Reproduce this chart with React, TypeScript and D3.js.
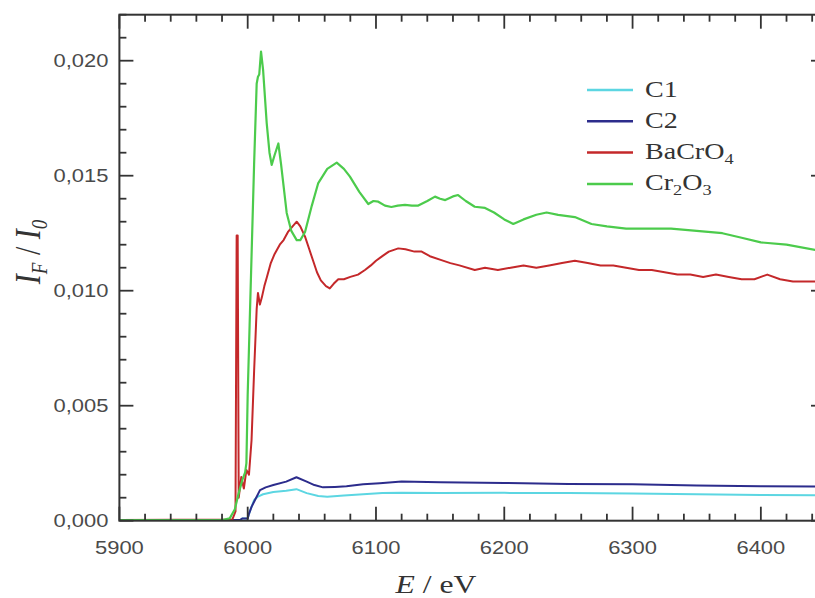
import React from 'react';
import * as d3 from 'd3';

// ---------- data ----------
const xTicksMajor = [5900, 6000, 6100, 6200, 6300, 6400];
const yTicksMajor = [0, 0.005, 0.01, 0.015, 0.02];

const c1E = [5900, 5994, 5996, 6000, 6001, 6003, 6005, 6008, 6012, 6020, 6030, 6038, 6046, 6055, 6062, 6075, 6090, 6105, 6120, 6150, 6200, 6250, 6300, 6350, 6400, 6450];
const c1V = [0.00003, 0.00003, 0.0001, 0.0001, 0.0003, 0.0006, 0.0009, 0.00105, 0.00115, 0.00125, 0.0013, 0.00137, 0.0012, 0.00107, 0.00104, 0.0011, 0.00115, 0.0012, 0.00122, 0.0012, 0.00121, 0.0012, 0.00118, 0.00115, 0.00112, 0.0011];

const c2E = [5900, 5994, 5996, 6000, 6001, 6003, 6005.7, 6009.6, 6014, 6020, 6030, 6038, 6046, 6052, 6058.7, 6068, 6077, 6090, 6103, 6120, 6150, 6200, 6250, 6300, 6350, 6400, 6450];
const c2V = [0.00003, 0.00003, 0.0001, 0.0001, 0.0003, 0.0006, 0.0009, 0.00133, 0.00145, 0.00155, 0.0017, 0.00189, 0.0017, 0.00155, 0.00145, 0.00147, 0.0015, 0.00158, 0.00163, 0.0017, 0.00167, 0.00164, 0.0016, 0.00158, 0.00153, 0.0015, 0.00148];

const baE = [5900, 5988, 5990.5, 5991.4, 5991.8, 5992.2, 5993, 5995, 5997, 5999, 6001, 6003, 6005, 6007, 6008, 6009.5, 6011, 6013, 6015, 6018, 6021, 6025, 6028, 6031.6, 6035, 6038.2, 6041, 6044.7, 6048, 6051, 6054, 6057, 6061, 6064, 6067, 6070.6, 6075, 6080, 6086, 6091.4, 6096, 6100, 6104.4, 6110, 6117.4, 6123, 6130, 6135.6, 6142, 6151, 6158, 6165, 6177, 6185, 6195, 6205, 6215, 6225, 6235, 6245, 6255, 6265, 6275, 6285, 6295, 6305, 6315, 6325, 6335, 6345, 6355, 6365, 6375, 6385, 6395, 6405, 6415, 6425, 6435, 6450];
const baV = [0.00003, 0.00005, 0.0004, 0.0124, 0.0124, 0.0124, 0.001, 0.0019, 0.0014, 0.0022, 0.002, 0.0035, 0.0065, 0.0092, 0.0099, 0.0094, 0.0097, 0.0102, 0.0106, 0.0112, 0.0116, 0.012, 0.0122, 0.01257, 0.0128, 0.013, 0.0128, 0.01235, 0.0118, 0.0113, 0.0108, 0.01045, 0.0102, 0.0101, 0.0103, 0.0105, 0.0105, 0.0106, 0.0107, 0.0109, 0.0111, 0.0113, 0.01148, 0.0117, 0.01184, 0.0118, 0.0117, 0.0117, 0.0115, 0.01133, 0.0112, 0.0111, 0.0109, 0.011, 0.0109, 0.011, 0.0111, 0.011, 0.0111, 0.0112, 0.0113, 0.0112, 0.0111, 0.0111, 0.011, 0.0109, 0.0109, 0.0108, 0.0107, 0.0107, 0.0106, 0.0107, 0.0106, 0.0105, 0.0105, 0.0107, 0.0105, 0.0104, 0.0104, 0.0104];

const crE = [5900, 5980, 5986, 5990, 5993, 5996, 5998, 5999, 6000, 6001.5, 6003, 6005, 6007, 6008, 6009, 6010.4, 6012, 6014.8, 6017, 6018.7, 6021, 6023.9, 6026, 6030.4, 6034, 6038.2, 6041, 6044.7, 6050, 6055, 6062, 6069.4, 6075, 6079.7, 6087, 6094, 6098, 6101.8, 6107, 6112, 6117, 6122.6, 6128, 6133, 6140, 6146, 6150, 6154, 6160, 6164, 6170, 6177, 6185, 6192, 6200, 6207, 6215, 6225, 6233, 6242, 6255, 6268, 6280, 6295, 6310, 6330, 6350, 6370, 6385, 6400, 6420, 6450];
const crV = [0.00003, 0.00003, 0.0001, 0.0005, 0.0012, 0.0018, 0.0021, 0.0025, 0.0055, 0.0085, 0.0115, 0.0155, 0.019, 0.0193, 0.0194, 0.0204, 0.0196, 0.0173, 0.016, 0.01547, 0.0159, 0.0164, 0.0155, 0.01338, 0.0126, 0.0122, 0.0122, 0.01255, 0.0137, 0.01468, 0.0153, 0.01557, 0.0153, 0.01496, 0.0143, 0.01377, 0.0139, 0.01387, 0.0137, 0.01364, 0.0137, 0.01373, 0.0137, 0.0137, 0.0139, 0.01409, 0.014, 0.01394, 0.0141, 0.01416, 0.0139, 0.01365, 0.0136, 0.0134, 0.0131, 0.0129, 0.0131, 0.0133, 0.0134, 0.0133, 0.0132, 0.0129, 0.0128, 0.0127, 0.0127, 0.0127, 0.0126, 0.0125, 0.0123, 0.0121, 0.012, 0.0117];

const seriesNames = ['C1', 'C2', 'BaCrO4', 'Cr2O3'];
const seriesColors = ['#5cd6e2', '#2c2c8c', '#c4282a', '#4ccb4c'];
// legend label pieces: [text, isSubscript]
const legendParts: [string, boolean][][] = [
  [['C1', false]],
  [['C2', false]],
  [['BaCrO', false], ['4', true]],
  [['Cr', false], ['2', true], ['O', false], ['3', true]],
];

// ---------- layout ----------
const W = 815, H = 598;
const X0 = 119.4, X1 = 825, Y0 = 520.7, Y1 = 14.7;
const SX = 1.22; // horizontal stretch of text in the reference

export default function App() {
  const x = d3.scaleLinear().domain([5900, 6450]).range([X0, X1]);
  const y = d3.scaleLinear().domain([0, 0.022]).range([Y0, Y1]);
  const line = d3.line<[number, number]>().x(d => x(d[0])).y(d => y(d[1]));
  const series = [
    c1E.map((e, i) => [e, c1V[i]] as [number, number]),
    c2E.map((e, i) => [e, c2V[i]] as [number, number]),
    baE.map((e, i) => [e, baV[i]] as [number, number]),
    crE.map((e, i) => [e, crV[i]] as [number, number]),
  ];
  const xMinor = d3.range(5900, 6451, 20);
  const yMinor = d3.range(0, 23, 1);
  const fmt = (v: number) => d3.format('.3f')(v).replace('.', ',');
  const axisColor = '#333';

  return (
    <svg width={W} height={H} style={{ position: 'absolute', left: 0, top: 0 }}>
      <rect x={0} y={0} width={W} height={H} fill="#fff" />
      {/* data lines */}
      {series.map((s, i) => (
        <path key={'s' + i} d={line(s) || ''} fill="none" stroke={seriesColors[i]} strokeWidth={i === 3 ? 2.2 : 2} strokeLinejoin="round" />
      ))}
      {/* tick labels */}
      {xTicksMajor.map(v => (
        <text key={'xl' + v} transform={`translate(${x(v)},553.5) scale(${SX},1)`} textAnchor="middle"
          fontFamily="'Liberation Sans', Arial, sans-serif" fontSize={18} fill="#4a4a4a">{v}</text>
      ))}
      {yTicksMajor.map(v => (
        <text key={'ylab' + v} transform={`translate(108.5,${y(v) + 6.5}) scale(${SX},1)`} textAnchor="end"
          fontFamily="'Liberation Sans', Arial, sans-serif" fontSize={18} fill="#4a4a4a">{fmt(v)}</text>
      ))}
      {/* axis titles */}
      <text transform={`translate(436,593) scale(${SX},1)`} textAnchor="middle"
        fontFamily="'Liberation Serif', 'Times New Roman', serif" fontSize={26} fill="#333">
        <tspan fontStyle="italic">E</tspan> / eV
      </text>
      <text transform={`translate(40,252) scale(${SX},1) rotate(-90)`} textAnchor="middle"
        fontFamily="'Liberation Serif', 'Times New Roman', serif" fontSize={30} fill="#333">
        <tspan fontStyle="italic">I</tspan>
        <tspan fontStyle="italic" fontSize={19} dy={6}>F</tspan>
        <tspan dy={-6}> / </tspan>
        <tspan fontStyle="italic">I</tspan>
        <tspan fontStyle="italic" fontSize={19} dy={6}>0</tspan>
      </text>
      {/* legend */}
      {seriesNames.map((n, i) => {
        const ly = 90 + i * 31.3;
        return (
          <g key={n}>
            <line x1={587} x2={633} y1={ly} y2={ly} stroke={seriesColors[i]} strokeWidth={2.5} />
            <text transform={`translate(645,${ly + 6.5}) scale(${SX},1)`}
              fontFamily="'Liberation Serif', 'Times New Roman', serif" fontSize={23} fill="#333">
              {legendParts[i].map(([t, sub], j) => {
                const prevSub = j > 0 && legendParts[i][j - 1][1];
                const dy = sub ? 5 : prevSub ? -5 : 0;
                return <tspan key={j} fontSize={sub ? 15 : 23} dy={dy}>{t}</tspan>;
              })}
            </text>
          </g>
        );
      })}
      {/* frame */}
      <rect x={X0} y={Y1} width={X1 - X0} height={Y0 - Y1} fill="none" stroke={axisColor} strokeWidth={2} />
      {/* ticks, inward on all four sides */}
      {xMinor.map(v => {
        const len = Math.round(v) % 100 === 0 ? 14 : 7;
        return <line key={'xb' + v} x1={x(v)} x2={x(v)} y1={Y0} y2={Y0 - len} stroke={axisColor} strokeWidth={1.8} />;
      })}
      {xMinor.map(v => {
        const len = Math.round(v) % 100 === 0 ? 14 : 7;
        return <line key={'xt' + v} x1={x(v)} x2={x(v)} y1={Y1} y2={Y1 + len} stroke={axisColor} strokeWidth={1.8} />;
      })}
      {yMinor.map(i => {
        const len = i % 5 === 0 ? 14 : 7;
        const py = y(i / 1000);
        return <line key={'yl' + i} x1={X0} x2={X0 + len} y1={py} y2={py} stroke={axisColor} strokeWidth={1.8} />;
      })}
      {yMinor.map(i => {
        const len = i % 5 === 0 ? 14 : 7;
        const py = y(i / 1000);
        return <line key={'yr' + i} x1={X1} x2={X1 - len} y1={py} y2={py} stroke={axisColor} strokeWidth={1.8} />;
      })}
    </svg>
  );
}
